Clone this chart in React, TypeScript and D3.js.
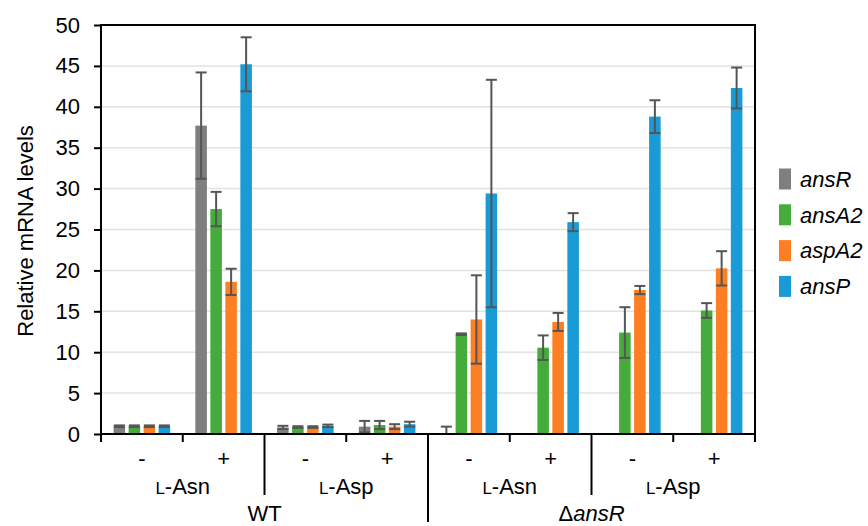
import { useEffect, useRef } from "react";
import * as d3 from "d3";

const conditions = ["WT L-Asn -", "WT L-Asn +", "WT L-Asp -", "WT L-Asp +", "dA L-Asn -", "dA L-Asn +", "dA L-Asp -", "dA L-Asp +"];
const signs = ["-", "+", "-", "+", "-", "+", "-", "+"];
const aminoAcids = ["Asn", "Asp", "Asn", "Asp"];
const strains = ["WT", "ΔansR"];
const genes = ["ansR", "ansA2", "aspA2", "ansP"];
const colors = ["#7f7f7f", "#43ac3a", "#fd7f24", "#189bd6"];

const ansR = [0.95, 37.7, 0.8, 0.9, 0.05, 0, 0, 0];
const ansA2 = [0.95, 27.5, 0.85, 1.1, 12.2, 10.55, 12.4, 15.1];
const aspA2 = [0.95, 18.6, 0.85, 0.9, 14.0, 13.7, 17.6, 20.25];
const ansP = [0.95, 45.2, 1.0, 1.2, 29.4, 25.9, 38.8, 42.3];

const ansRErr = [0.1, 6.5, 0.2, 0.7, 0.85, 0, 0, 0];
const ansA2Err = [0.1, 2.1, 0.1, 0.5, 0.1, 1.5, 3.1, 0.9];
const aspA2Err = [0.1, 1.6, 0.1, 0.3, 5.4, 1.1, 0.5, 2.1];
const ansPErr = [0.1, 3.3, 0.15, 0.3, 13.9, 1.1, 2.0, 2.5];

const values = [ansR, ansA2, aspA2, ansP];
const errors = [ansRErr, ansA2Err, aspA2Err, ansPErr];

const yTicks = [0, 5, 10, 15, 20, 25, 30, 35, 40, 45, 50];

const font = "'Liberation Sans', Arial, sans-serif";

export default function App() {
  const ref = useRef<SVGSVGElement>(null);

  useEffect(() => {
    const svg = d3.select(ref.current);
    svg.selectAll("*").remove();

    const left = 101, right = 755, top = 25, bottom = 434;

    const x0 = d3.scaleBand<string>().domain(conditions).range([left, right]).padding(0);
    const x1 = d3
      .scaleBand<string>()
      .domain(genes)
      .range([0, x0.bandwidth()])
      .paddingInner(0.23)
      .paddingOuter(0.84);
    const y = d3.scaleLinear().domain([0, 50]).range([bottom, top]);

    // gridlines
    svg
      .append("g")
      .selectAll("line")
      .data(yTicks.slice(1, -1))
      .join("line")
      .attr("x1", left)
      .attr("x2", right)
      .attr("y1", (d) => y(d))
      .attr("y2", (d) => y(d))
      .attr("stroke", "#e2e2e2")
      .attr("stroke-width", 1.5);

    // bars
    const series = svg
      .append("g")
      .selectAll("g")
      .data(genes)
      .join("g")
      .attr("fill", (_, i) => colors[i]);

    series.each(function (gene, gi) {
      const g = d3.select(this);
      g.selectAll("rect")
        .data(values[gi])
        .join("rect")
        .attr("x", (_, ci) => x0(conditions[ci])! + x1(gene)!)
        .attr("width", x1.bandwidth())
        .attr("y", (d) => y(d))
        .attr("height", (d) => y(0) - y(d));

      const errG = svg.append("g").attr("stroke", "#555").attr("stroke-width", 2);
      values[gi].forEach((v, ci) => {
        const e = errors[gi][ci];
        if (e <= 0) return;
        const cx = x0(conditions[ci])! + x1(gene)! + x1.bandwidth() / 2;
        const lo = Math.max(0, v - e);
        const hi = v + e;
        errG.append("line").attr("x1", cx).attr("x2", cx).attr("y1", y(lo)).attr("y2", y(hi));
        errG.append("line").attr("x1", cx - 5.5).attr("x2", cx + 5.5).attr("y1", y(hi)).attr("y2", y(hi));
        errG.append("line").attr("x1", cx - 5.5).attr("x2", cx + 5.5).attr("y1", y(lo)).attr("y2", y(lo));
      });
    });

    // frame
    svg
      .append("rect")
      .attr("x", left)
      .attr("y", top)
      .attr("width", right - left)
      .attr("height", bottom - top)
      .attr("fill", "none")
      .attr("stroke", "#000")
      .attr("stroke-width", 2);

    // y axis
    const yAxis = svg
      .append("g")
      .attr("transform", `translate(${left},0)`)
      .call(d3.axisLeft(y).tickValues(yTicks).tickSize(7).tickSizeOuter(0).tickPadding(14));
    yAxis.select(".domain").remove();
    yAxis.selectAll("line").attr("stroke", "#000").attr("stroke-width", 2);
    yAxis.selectAll("text").attr("font-family", font).attr("font-size", 22).attr("fill", "#000");

    // x ticks and separators
    const boundaries = d3.range(conditions.length + 1).map((i) => left + i * x0.step());
    const sep = svg.append("g").attr("stroke", "#000").attr("stroke-width", 2);
    boundaries.forEach((bx, i) => {
      let len = 8;
      if (i === 2 || i === 6) len = 61;
      if (i === 4) len = 88;
      sep.append("line").attr("x1", bx).attr("x2", bx).attr("y1", bottom).attr("y2", bottom + len);
    });

    const labels = svg.append("g").attr("font-family", font).attr("fill", "#000").attr("text-anchor", "middle");
    conditions.forEach((c, i) => {
      labels
        .append("text")
        .attr("x", x0(c)! + x0.bandwidth() / 2)
        .attr("y", 466)
        .attr("font-size", 22)
        .text(signs[i]);
    });
    aminoAcids.forEach((a, i) => {
      const t = labels
        .append("text")
        .attr("x", left + (i * 2 + 1) * x0.step())
        .attr("y", 494)
        .attr("font-size", 22);
      t.append("tspan").attr("font-size", 17).text("L");
      t.append("tspan").text("-" + a);
    });
    strains.forEach((s, i) => {
      const t = labels
        .append("text")
        .attr("x", left + (i * 4 + 2) * x0.step())
        .attr("y", 521)
        .attr("font-size", 22);
      if (s === "WT") {
        t.text(s);
      } else {
        t.append("tspan").text("Δ");
        t.append("tspan").attr("font-style", "italic").text("ansR");
      }
    });

    // y title
    svg
      .append("text")
      .attr("transform", `translate(33,231) rotate(-90)`)
      .attr("text-anchor", "middle")
      .attr("font-family", font)
      .attr("font-size", 22)
      .text("Relative mRNA levels");

    // legend
    const legend = svg
      .append("g")
      .selectAll("g")
      .data(genes)
      .join("g")
      .attr("transform", (_, i) => `translate(779, ${179 + i * 35.8})`);
    legend
      .append("rect")
      .attr("x", 0)
      .attr("y", -10.5)
      .attr("width", 12)
      .attr("height", 21)
      .attr("fill", (_, i) => colors[i]);
    legend
      .append("text")
      .attr("x", 21)
      .attr("y", 0)
      .attr("dy", "0.35em")
      .attr("font-family", font)
      .attr("font-size", 22)
      .attr("font-style", "italic")
      .text((d) => d);
  }, []);

  return (
    <svg
      ref={ref}
      width={868}
      height={526}
      style={{ position: "absolute", left: 0, top: 0, background: "#fff" }}
    />
  );
}
